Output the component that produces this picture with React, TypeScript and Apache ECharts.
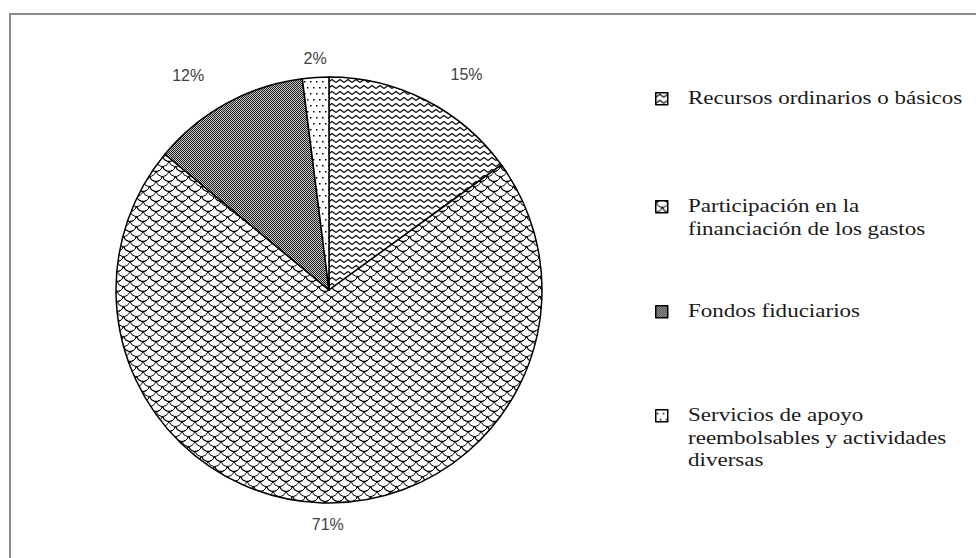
import React, { useEffect, useRef } from "react";
import * as echarts from "echarts";

// ---- data ----
const categories = [
  "Recursos ordinarios o básicos",
  "Participación en la financiación de los gastos",
  "Fondos fiduciarios",
  "Servicios de apoyo reembolsables y actividades diversas",
];
const legendLines = [
  ["Recursos ordinarios o básicos"],
  ["Participación en la", "financiación de los gastos"],
  ["Fondos fiduciarios"],
  ["Servicios de apoyo", "reembolsables y actividades", "diversas"],
];
const values = [15, 71, 12, 2];

// ---- styles ----
const LEGEND_ICON_CENTERS = [98, 206, 311, 415];
const LEGEND_ICON_X = 655;
const LEGEND_TEXT_X = 688;
const LINE_H = 22.5;
const LEGEND_SCALE_X = 1.28;
const LABEL_NUDGE = [
  [13, -12],
  [27, 7],
  [-10, -15],
  [17, -4],
];

function makeCanvas(w: number, h: number, draw: (ctx: CanvasRenderingContext2D) => void) {
  const c = document.createElement("canvas");
  c.width = w;
  c.height = h;
  const ctx = c.getContext("2d")!;
  ctx.fillStyle = "#fff";
  ctx.fillRect(0, 0, w, h);
  draw(ctx);
  return c;
}

function wavePattern() {
  return makeCanvas(8, 6, (ctx) => {
    ctx.strokeStyle = "#000";
    ctx.lineWidth = 1.1;
    for (const dy of [-6, 0, 6]) {
      ctx.beginPath();
      ctx.moveTo(0, 4.5 + dy);
      ctx.lineTo(4, 1.5 + dy);
      ctx.lineTo(8, 4.5 + dy);
      ctx.stroke();
    }
  });
}

function scalePattern() {
  const W = 13, H = 10;
  return makeCanvas(W, H, (ctx) => {
    ctx.strokeStyle = "#000";
    ctx.lineWidth = 1;
    const r = W / 2;
    for (const ox of [-W, 0, W]) {
      for (const oy of [-H, 0, H]) {
        ctx.beginPath();
        ctx.arc(r + ox, 0 + oy, r, 0.2, Math.PI - 0.2);
        ctx.stroke();
        ctx.beginPath();
        ctx.arc(0 + ox, H / 2 + oy, r, 0.2, Math.PI - 0.2);
        ctx.stroke();
        ctx.beginPath();
        ctx.arc(W + ox, H / 2 + oy, r, 0.2, Math.PI - 0.2);
        ctx.stroke();
      }
    }
  });
}

function checkPattern() {
  return makeCanvas(2, 2, (ctx) => {
    ctx.fillStyle = "#c4c4c4";
    ctx.fillRect(0, 0, 2, 2);
    ctx.fillStyle = "#222";
    ctx.fillRect(0, 0, 1, 1);
    ctx.fillRect(1, 1, 1, 1);
  });
}

function dotPattern() {
  return makeCanvas(6, 12, (ctx) => {
    ctx.fillStyle = "#000";
    ctx.fillRect(1, 3, 1.5, 1.5);
    ctx.fillRect(4, 9, 1.5, 1.5);
  });
}

export default function App() {
  const ref = useRef<HTMLDivElement>(null);
  useEffect(() => {
    if (!ref.current) return;
    const chart = echarts.init(ref.current, null, { renderer: "svg" });
    const patterns = [wavePattern(), scalePattern(), checkPattern(), dotPattern()];
    const legends = categories.map((name, i) => ({
      data: [name],
      left: LEGEND_ICON_X,
      top: LEGEND_ICON_CENTERS[i] - 6,
      orient: "vertical",
      padding: 0,
      icon: "rect",
      itemWidth: 12,
      itemHeight: 12,
      selectedMode: false,
      itemStyle: { borderColor: "#000", borderWidth: 1.5 },
      textStyle: { fontSize: 1, color: "transparent" },
      formatter: () => "",
    }));
    const legendTexts = legendLines.map((lines, i) => ({
      type: "text",
      x: LEGEND_TEXT_X,
      y: LEGEND_ICON_CENTERS[i] - LINE_H / 2,
      scaleX: LEGEND_SCALE_X,
      silent: true,
      style: {
        text: lines.join("\n"),
        fontFamily: "Liberation Serif",
        fontSize: 18,
        lineHeight: LINE_H,
        fill: "#1a1a1a",
        verticalAlign: "top",
        align: "left",
      },
    }));
    chart.setOption({
      animation: false,
      backgroundColor: "#fff",
      legend: legends,
      graphic: [
        {
          type: "rect",
          shape: { x: 10, y: 14, width: 1000, height: 600 },
          style: { fill: "none", stroke: "#8c8c8c", lineWidth: 2 },
          silent: true,
        },
        ...legendTexts,
      ],
      series: [
        {
          type: "pie",
          center: [329, 290],
          radius: 213,
          startAngle: 90,
          clockwise: true,
          avoidLabelOverlap: false,
          silent: true,
          data: categories.map((name, i) => ({
            name,
            value: values[i],
            itemStyle: { color: { image: patterns[i], repeat: "repeat" } },
          })),
          itemStyle: { borderColor: "#000", borderWidth: 1.5 },
          label: {
            show: true,
            position: "outside",
            formatter: "{c}%",
            fontFamily: "Liberation Sans",
            fontSize: 16,
            color: "#404040",
          },
          labelLine: { show: false, length: 15, length2: 0 },
          labelLayout: (p: any) => ({
            dx: LABEL_NUDGE[p.dataIndex][0],
            dy: LABEL_NUDGE[p.dataIndex][1],
          }),
          emphasis: { disabled: true },
        },
      ],
    });
    return () => chart.dispose();
  }, []);
  return (
    <div
      ref={ref}
      style={{ position: "fixed", left: 0, top: 0, width: 976, height: 558 }}
    />
  );
}
